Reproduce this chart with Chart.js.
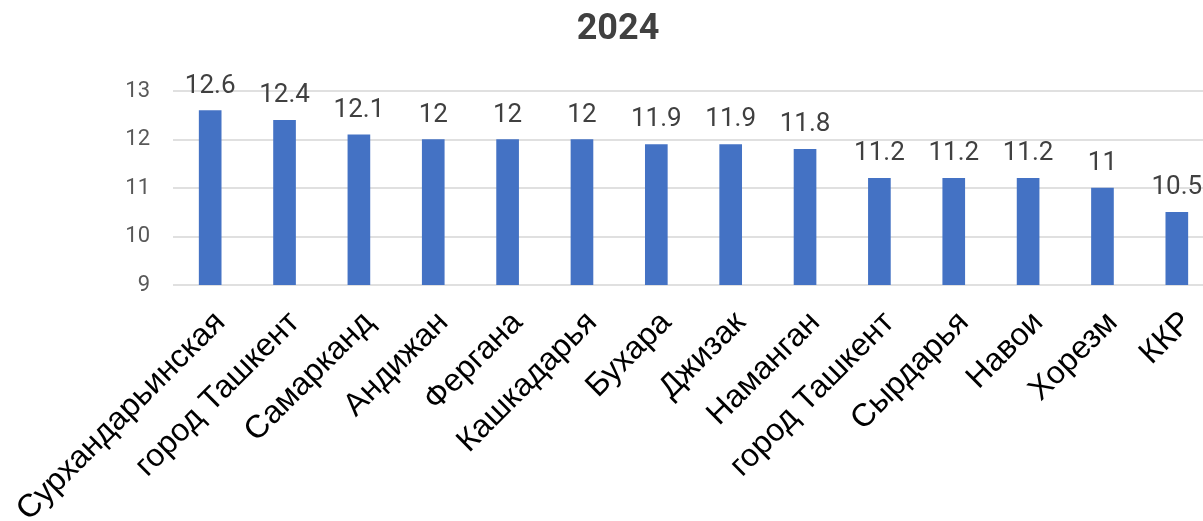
<!DOCTYPE html>
<html>
<head>
<meta charset="utf-8">
<script src="https://cdn.jsdelivr.net/npm/chart.js@4.4.1/dist/chart.umd.min.js"></script>
<style>
  html, body { margin: 0; padding: 0; background: #fff; overflow: hidden; }
  #wrap { width: 1214px; height: 521px; position: relative; }
</style>
</head>
<body>
<div id="wrap"><canvas id="regionChart"></canvas></div>
<script>
const regions = ['Сурхандарьинская', 'город Ташкент', 'Самарканд', 'Андижан', 'Фергана', 'Кашкадарья',
  'Бухара', 'Джизак', 'Наманган', 'город Ташкент', 'Сырдарья', 'Навои', 'Хорезм', 'ККР'];
const values2024 = [12.6, 12.4, 12.1, 12, 12, 12, 11.9, 11.9, 11.8, 11.2, 11.2, 11.2, 11, 10.5];
const yTicks = [9, 10, 11, 12, 13];
const chartTitle = '2024';

// value labels above each bar
const barValueLabels = {
  id: 'barValueLabels',
  afterDatasetsDraw(chart){
    const ctx = chart.ctx;
    const meta = chart.getDatasetMeta(0);
    ctx.save();
    ctx.font = '26px Roboto';
    ctx.fillStyle = '#404040';
    ctx.textAlign = 'center';
    ctx.textBaseline = 'alphabetic';
    meta.data.forEach((bar, i)=>{
      ctx.fillText(String(values2024[i]), bar.x, bar.y - 18);
    });
    ctx.restore();
  }
};

const ctx = document.getElementById('regionChart').getContext('2d');
new Chart(ctx, {
  type: 'bar',
  data: {
    labels: regions,
    datasets: [{
      data: values2024,
      backgroundColor: '#4472C4',
      barThickness: 22
    }]
  },
  options: {
    responsive: true,
    maintainAspectRatio: false,
    animation: false,
    layout: { padding: { left: 22, right: 0, top: 0, bottom: 0 } },
    plugins: {
      legend: { display: false },
      tooltip: { enabled: false },
      title: {
        display: true,
        text: chartTitle,
        color: '#404040',
        font: { family: 'Roboto', size: 36, weight: 'bold' },
        padding: { top: 8, bottom: 40 }
      }
    },
    scales: {
      x: {
        grid: { display: false },
        border: { display: false },
        ticks: {
          color: '#000',
          font: { family: 'Liberation Sans', size: 32 },
          minRotation: 45,
          maxRotation: 45,
          autoSkip: false,
          padding: 11,
          labelOffset: 10
        },
        afterFit(scale){
          // long rotated labels may hang past the plot edges
          scale.height = 236;
          scale.paddingLeft = 0;
          scale.paddingRight = 0;
        }
      },
      y: {
        min: 9,
        max: 13,
        border: { display: false },
        grid: { color: '#e0e0e0', lineWidth: 2, drawTicks: false },
        afterBuildTicks(scale){ scale.ticks = yTicks.map(v=>({value: v})); },
        ticks: {
          color: '#595959',
          font: { family: 'Roboto', size: 22 },
          padding: 23
        },
        afterFit(scale){ scale.width = 151; }
      }
    }
  },
  plugins: [barValueLabels]
});
</script>
</body>
</html>
